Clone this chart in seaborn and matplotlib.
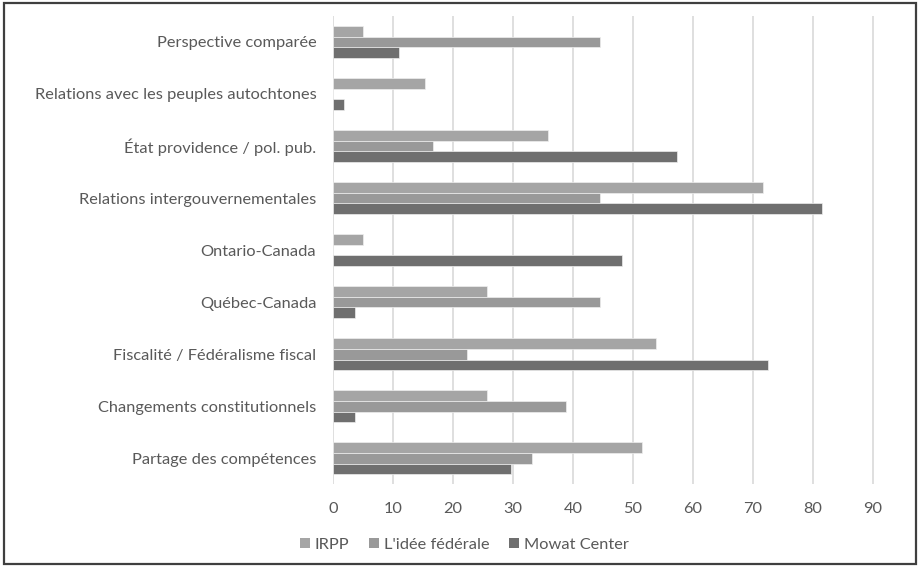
import matplotlib
matplotlib.use("Agg")
import matplotlib.pyplot as plt
import seaborn as sns
import pandas as pd
from matplotlib.patches import Rectangle

categories = [
    "Perspective comparée",
    "Relations avec les peuples autochtones",
    "État providence / pol. pub.",
    "Relations intergouvernementales",
    "Ontario-Canada",
    "Québec-Canada",
    "Fiscalité / Fédéralisme fiscal",
    "Changements constitutionnels",
    "Partage des compétences",
]
series_names = ["IRPP", "L'idée fédérale", "Mowat Center"]
irpp = [5.0, 15.4, 35.9, 71.7, 5.0, 25.6, 53.8, 25.6, 51.5]
idee = [44.5, 0.0, 16.7, 44.5, 0.0, 44.5, 22.3, 38.9, 33.2]
mowat = [11.0, 1.8, 57.4, 81.6, 48.2, 3.7, 72.5, 3.7, 29.6]
xticks = [0, 10, 20, 30, 40, 50, 60, 70, 80, 90]
colors = ["#a5a5a5", "#999999", "#6f6f6f"]

rows = []
for name, vals in zip(series_names, [irpp, idee, mowat]):
    for c, v in zip(categories, vals):
        rows.append({"cat": c, "series": name, "val": v})
df = pd.DataFrame(rows)

sns.set_theme(style="white")
plt.rcParams["font.family"] = ["Lato", "DejaVu Sans"]

fig = plt.figure(figsize=(9.2, 5.67), dpi=100)
ax = fig.add_axes([0.362, 0.146, 0.5885, 0.826])

sns.barplot(data=df, y="cat", x="val", hue="series", order=categories,
            hue_order=series_names, palette=colors, orient="h",
            width=0.62, edgecolor="#eeeeee", linewidth=0.5, ax=ax,
            legend=False, errorbar=None)

ax.set_xlim(0, 90.3)
ax.set_ylim(8.5, -0.5)
ax.set_xticks(xticks)
ax.set_xticklabels([str(t) for t in xticks])
ax.xaxis.grid(True, color="#d9d9d9", linewidth=1.2)
ax.yaxis.grid(False)
ax.set_axisbelow(True)
for s in ax.spines.values():
    s.set_visible(False)
ax.set_xlabel("")
ax.set_ylabel("")
ax.tick_params(axis="both", length=0, labelsize=11.8, colors="#595959")
ax.tick_params(axis="x", pad=13)
ax.tick_params(axis="y", pad=12)

handles = [Rectangle((0, 0), 1, 1, facecolor=c, edgecolor="none") for c in colors]
fig.legend(handles, series_names, loc="center", bbox_to_anchor=(0.505, 0.039),
           ncol=3, frameon=False, handlelength=0.6, handleheight=0.6,
           handletextpad=0.3, columnspacing=1.2, fontsize=11.8,
           labelcolor="#595959")

fig.patches.append(Rectangle((0.004, 0.006), 0.992, 0.988, transform=fig.transFigure,
                             fill=False, edgecolor="#3f3f3f", linewidth=1.6))

fig.savefig("out.png", dpi=100)
